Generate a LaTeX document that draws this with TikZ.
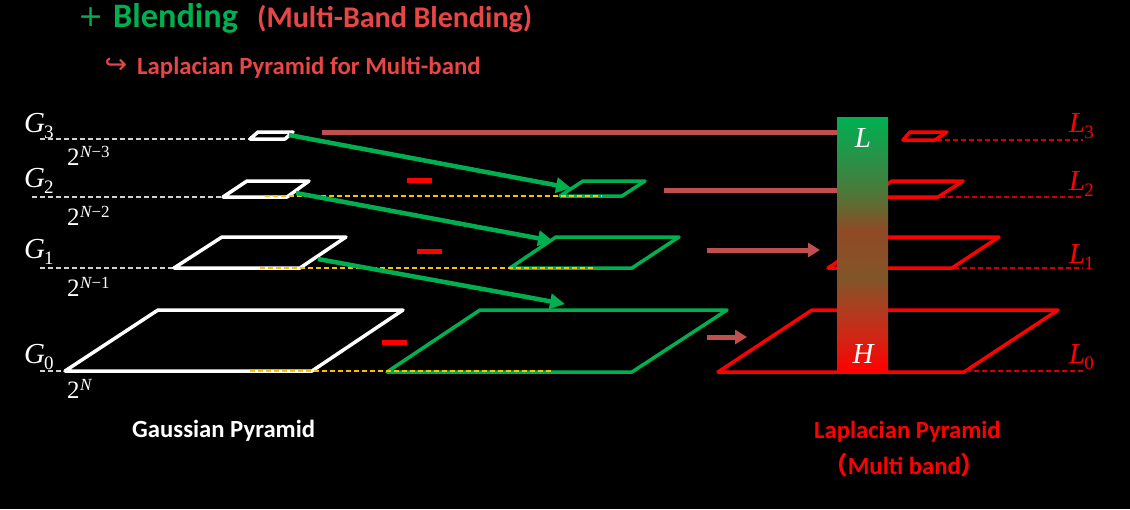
\documentclass[tikz,border=0pt]{standalone}
\usepackage{fontspec}
\setmainfont{Carlito}
\newfontfamily\cjk{Noto Sans CJK SC}
\newfontfamily\lsf{Liberation Serif}
\newfontfamily\dv{DejaVu Sans}
\usetikzlibrary{arrows.meta}
\definecolor{gr}{HTML}{00B050}
\definecolor{tred}{HTML}{E84646}
\definecolor{brn}{HTML}{C0504D}
\definecolor{dred}{HTML}{D00000}
\definecolor{org}{HTML}{FFC000}
\definecolor{cA}{HTML}{D02515}
\definecolor{cB}{HTML}{B03C20}
\definecolor{cC}{HTML}{7F5628}
\definecolor{cD}{HTML}{8A5028}
\definecolor{cE}{HTML}{8F4A26}
\definecolor{cF}{HTML}{6A6430}
\definecolor{cG}{HTML}{4A7A3A}
\definecolor{cH}{HTML}{2A9048}
\pgfdeclareverticalshading{colbar}{100bp}{color(0bp)=(red); color(25bp)=(red); color(31.7bp)=(cA); color(37bp)=(cB); color(43.5bp)=(cC); color(46.8bp)=(cD); color(52.8bp)=(cE); color(56.7bp)=(cF); color(60.6bp)=(cG); color(66.5bp)=(cH); color(75bp)=(gr); color(100bp)=(gr)}
\newcommand\glab[2]{{\lsf\itshape #1}\kern-1pt\raisebox{-6pt}{\lsf\fontsize{19}{19}\selectfont #2}}
\newcommand\plab[1]{{\lsf 2}\kern0.5pt\raisebox{8pt}{\lsf\fontsize{17}{17}\selectfont #1}}
\begin{document}
\begin{tikzpicture}[x=1pt,y=-1pt,
  wpar/.style={draw=white,line width=3.5pt,line join=round},
  gpar/.style={draw=gr,line width=3.5pt,line join=round},
  rpar/.style={draw=red,line width=3.5pt,line join=round},
  gdash/.style={draw=white!82!black,dash pattern=on 5pt off 3pt,line width=1.3pt},
  odash/.style={draw=org,dash pattern=on 5pt off 3pt,line width=1.3pt},
  rdash/.style={draw=dred,dash pattern=on 5pt off 3pt,line width=1.3pt},
  garrow/.style={draw=gr,line width=4.5pt,-{Triangle[length=15pt,width=15pt]}},
  barrow/.style={draw=brn,line width=5pt,-{Triangle[length=12pt,width=14pt]}},
  bline/.style={draw=brn,line width=5pt},
  minus/.style={fill=red,minimum width=25pt,minimum height=5pt,inner sep=0pt},
  lbl/.style={anchor=base west,inner sep=0pt},
  mlbl/.style={lbl,font=\fontsize{29}{29}\selectfont},
  plbl/.style={lbl,text=white,font=\fontsize{25}{25}\selectfont},
  captext/.style={anchor=base west,inner sep=0pt,font=\bfseries\fontsize{24.7}{25}\selectfont}
]
\fill[black] (0,0) rectangle (1130,509);
\useasboundingbox (0,0) rectangle (1130,509);

% titles
\node[text=gr,inner sep=0pt,font=\dv\fontsize{30}{30}\selectfont] (plus) at (91.5,17.5) {+};
\node[lbl,text=gr,font=\bfseries\fontsize{34.3}{34}\selectfont] (blend) at (113,27) {Blending};
\node[lbl,text=tred,font=\bfseries\fontsize{30}{30}\selectfont] (mbb) at (257,27) {(Multi-Band Blending)};
\node[text=tred,inner sep=0pt,font=\dv\fontsize{27}{27}\selectfont] (hook) at (116,66) {↪};
\node[lbl,text=tred,font=\bfseries\fontsize{24.8}{25}\selectfont] (sub) at (137,74) {Laplacian Pyramid for Multi-band};

% left gray dashed lines
\coordinate (d3) at (40,139); \coordinate (d2) at (32,197);
\coordinate (d1) at (40,268); \coordinate (d0) at (40,371);
\draw[gdash] (d3) -- (250,139);
\draw[gdash] (d2) -- (223,197);
\draw[gdash] (d1) -- (174,268);
\draw[gdash] (d0) -- (65,371);

% Gaussian pyramid
\draw[wpar] (250,139) -- (285,139) -- (293,132) -- (258,132) -- cycle;
\draw[wpar] (223,197) -- (287,197) -- (309,181) -- (247,181) -- cycle;
\draw[wpar] (174,268) -- (300,268) -- (346,237) -- (222,237) -- cycle;
\draw[wpar] (65,371) -- (312,371) -- (403,310) -- (158,310) -- cycle;

% green pyramid
\draw[gpar] (560,196) -- (622,196) -- (645,181) -- (583,181) -- cycle;
\draw[gpar] (510,268) -- (632,268) -- (679,237) -- (556,237) -- cycle;
\draw[gpar] (387,372) -- (632,372) -- (727,310) -- (480,310) -- cycle;

% orange dashed
\draw[odash] (265,196) -- (602,196);
\draw[odash] (260,268) -- (593,268);
\draw[odash] (250,371) -- (552,371);

% labels left
\node[mlbl,text=white] (G3) at (24,132) {\glab{G}{3}};
\node[mlbl,text=white] (G2) at (24,187) {\glab{G}{2}};
\node[mlbl,text=white] (G1) at (24,258) {\glab{G}{1}};
\node[mlbl,text=white] (G0) at (24,363) {\glab{G}{0}};
\node[plbl] (p3) at (67,165) {\plab{{\itshape N}−3}};
\node[plbl] (p2) at (67,225) {\plab{{\itshape N}−2}};
\node[plbl] (p1) at (67,296) {\plab{{\itshape N}−1}};
\node[plbl] (p0) at (67,398) {\plab{{\itshape N}}};

% green arrows
\coordinate (a3s) at (289,135); \coordinate (a3e) at (571,188);
\coordinate (a2s) at (296,193); \coordinate (a2e) at (553,241);
\coordinate (a1s) at (318,259); \coordinate (a1e) at (565,304);
\draw[garrow] (a3s) -- (a3e);
\draw[garrow] (a2s) -- (a2e);
\draw[garrow] (a1s) -- (a1e);

% minus signs
\node[minus] (m2) at (419.5,180) {};
\node[minus] (m1) at (429.5,251) {};
\node[minus] (m0) at (394.5,342) {};

% red laplacian pyramid
\draw[rpar] (903,140) -- (935,140) -- (947,132) -- (910,132) -- cycle;
\draw[rpar] (869,197) -- (938,197) -- (963,181) -- (892,181) -- cycle;
\draw[rpar] (828,268) -- (952,268) -- (999,237) -- (875,237) -- cycle;
\draw[rpar] (718,372) -- (964,372) -- (1058,310) -- (812,310) -- cycle;

% red dashed lines
\coordinate (r3) at (1083,140); \coordinate (r2) at (1083,197);
\coordinate (r1) at (1083,268); \coordinate (r0) at (1083,371);
\draw[rdash] (937,140) -- (r3);
\draw[rdash] (940,197) -- (r2);
\draw[rdash] (954,268) -- (r1);
\draw[rdash] (966,371) -- (r0);

% column
\node[shading=colbar,minimum width=51pt,minimum height=254pt,inner sep=0pt] (col) at (862.5,244) {};
\node[text=white,anchor=base,inner sep=0pt,font=\lsf\itshape\fontsize{29}{29}\selectfont] (Lc) at (863,147) {L};
\node[text=white,anchor=base,inner sep=0pt,font=\lsf\itshape\fontsize{29}{29}\selectfont] (Hc) at (863,363) {H};

% brown lines / arrows
\coordinate (b3) at (322,132); \coordinate (b2) at (664,190);
\coordinate (b1) at (707,250); \coordinate (b0) at (707,337);
\coordinate (b1e) at (820,250); \coordinate (b0e) at (747,337);
\draw[bline] (b3) -- (b3 -| col.west);
\draw[bline] (b2) -- (b2 -| col.west);
\draw[barrow] (b1) -- (b1e);
\draw[barrow] (b0) -- (b0e);

% L labels
\node[mlbl,text=red] (L3) at (1069,132) {\glab{L}{3}};
\node[mlbl,text=red] (L2) at (1069,190) {\glab{L}{2}};
\node[mlbl,text=red] (L1) at (1069,263) {\glab{L}{1}};
\node[mlbl,text=red] (L0) at (1069,363) {\glab{L}{0}};

% captions
\node[captext,text=white] (gp) at (132,437) {Gaussian Pyramid};
\node[captext,text=red] (lp) at (814,438) {Laplacian Pyramid};
\node[captext,text=red] (mb) at (823,474) {{\cjk（}Multi band{\cjk）}};
\end{tikzpicture}
\end{document}
